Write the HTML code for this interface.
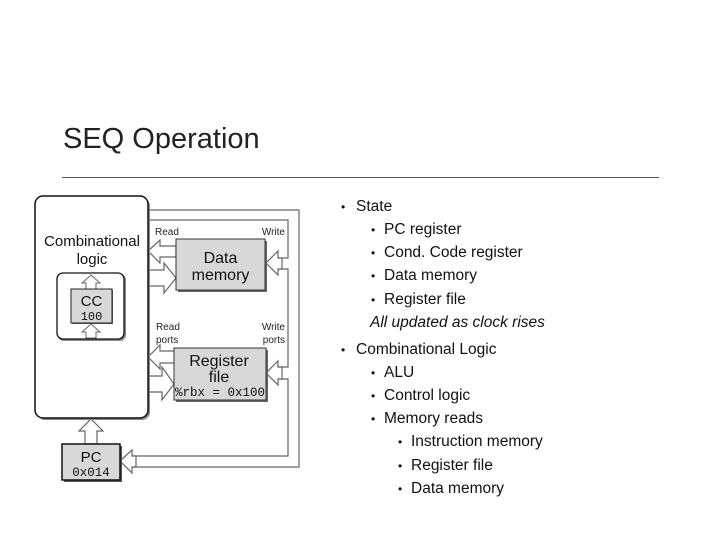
<!DOCTYPE html>
<html><head><meta charset="utf-8"><style>
html,body{margin:0;padding:0;background:#fff;width:719px;height:539px;overflow:hidden}
</style></head><body>
<svg width="719" height="539" viewBox="0 0 719 539" xmlns="http://www.w3.org/2000/svg" font-family="Liberation Sans, Arial, sans-serif">
<text x="63" y="148" font-size="29" fill="#222">SEQ Operation</text>
<line x1="62" y1="177.5" x2="659" y2="177.5" stroke="#555" stroke-width="1"/>

<!-- pipes -->
<g fill="none" stroke="#666" stroke-width="1.2">
<polyline points="148,210 299,210 299,467 132,467"/>
<polyline points="148,220 288,220 288,258 278,258"/>
<polyline points="278,269 288,269 288,367 278,367"/>
<polyline points="278,379 288,379 288,456 132,456"/>
</g>
<g fill="#fff" stroke="#666" stroke-width="1.2" stroke-linejoin="miter">
<polygon points="266,263 278,251 278,258 282,258 282,269 278,269 278,275"/>
<polygon points="266,373 278,361 278,367 282,367 282,379 278,379 278,385"/>
<polygon points="120,461 132,450 132,456 136,456 136,467 132,467 132,473"/>
<polygon points="148,251 160,240 160,246 176,246 176,257 160,257 160,263"/>
<polygon points="176,278 164,263 164,270 148,270 148,286 164,286 164,293"/>
<polygon points="148,357 160,345 160,351 176,351 176,363 160,363 160,369"/>
<polygon points="174,384 162,367 162,376 148,376 148,392 162,392 162,400"/>
<polygon points="91,419 103,431 97,431 97,444 85,444 85,431 79,431"/>
</g>

<!-- combinational logic -->
<rect x="37" y="198" width="113" height="222" rx="8" fill="#888"/>
<rect x="35" y="196" width="113" height="222" rx="8" fill="#fff" stroke="#111" stroke-width="1.5"/>
<text x="92" y="246" font-size="15" text-anchor="middle" fill="#111">Combinational</text>
<text x="92" y="264" font-size="15" text-anchor="middle" fill="#111">logic</text>
<rect x="58" y="274" width="68" height="67" rx="6" fill="#888"/>
<rect x="57" y="273" width="67" height="66" rx="6" fill="#fff" stroke="#111" stroke-width="1.3"/>
<polygon points="91,275 100,283 96,283 96,289 86,289 86,283 82,283" fill="#fff" stroke="#666"/>
<polygon points="91,324 100,332 96,332 96,338 86,338 86,332 82,332" fill="#fff" stroke="#666"/>
<rect x="72" y="290" width="41" height="34" fill="#666"/>
<rect x="71" y="289" width="41" height="34" fill="#d8d8d8" stroke="#222"/>
<text x="91.5" y="306" font-size="15" text-anchor="middle" fill="#111">CC</text>
<text x="91.5" y="320" font-size="12" font-family="Liberation Mono, monospace" text-anchor="middle" fill="#111">100</text>

<!-- data memory -->
<rect x="178" y="241" width="89" height="51" fill="#666"/>
<rect x="176" y="239" width="89" height="51" fill="#d8d8d8" stroke="#333"/>
<text x="220.5" y="263" font-size="16" text-anchor="middle" fill="#111">Data</text>
<text x="220.5" y="280" font-size="16" text-anchor="middle" fill="#111">memory</text>
<text x="155" y="235" font-size="10" fill="#222">Read</text>
<text x="285" y="235" font-size="10" text-anchor="end" fill="#222">Write</text>

<!-- register file -->
<rect x="176" y="350" width="92" height="52" fill="#666"/>
<rect x="174" y="348" width="92" height="52" fill="#d8d8d8" stroke="#333"/>
<text x="219" y="366" font-size="16" text-anchor="middle" fill="#111">Register</text>
<text x="219" y="382" font-size="16" text-anchor="middle" fill="#111">file</text>
<text x="220" y="396" font-size="12.5" font-family="Liberation Mono, monospace" text-anchor="middle" fill="#111">%rbx = 0x100</text>
<text x="156" y="330" font-size="10" fill="#222">Read</text>
<text x="156" y="343" font-size="10" fill="#222">ports</text>
<text x="285" y="330" font-size="10" text-anchor="end" fill="#222">Write</text>
<text x="285" y="343" font-size="10" text-anchor="end" fill="#222">ports</text>

<!-- PC -->
<rect x="64" y="446" width="58" height="36" fill="#555"/>
<rect x="62" y="444" width="58" height="36" fill="#d8d8d8" stroke="#111" stroke-width="1.5"/>
<text x="91" y="462" font-size="15" text-anchor="middle" fill="#111">PC</text>
<text x="91" y="476" font-size="12.5" font-family="Liberation Mono, monospace" text-anchor="middle" fill="#111">0x014</text>

<!-- bullets -->
<g font-size="15.5" fill="#111">
<text x="341" y="211" font-size="12">•</text><text x="356" y="211">State</text>
<text x="371" y="234" font-size="12">•</text><text x="384" y="234">PC register</text>
<text x="371" y="257" font-size="12">•</text><text x="384" y="257">Cond. Code register</text>
<text x="371" y="280" font-size="12">•</text><text x="384" y="280">Data memory</text>
<text x="371" y="304" font-size="12">•</text><text x="384" y="304">Register file</text>
<text x="370" y="327" font-style="italic">All updated as clock rises</text>
<text x="341" y="354" font-size="12">•</text><text x="356" y="354">Combinational Logic</text>
<text x="371" y="377" font-size="12">•</text><text x="384" y="377">ALU</text>
<text x="371" y="400" font-size="12">•</text><text x="384" y="400">Control logic</text>
<text x="371" y="423" font-size="12">•</text><text x="384" y="423">Memory reads</text>
<text x="398" y="446" font-size="12">•</text><text x="411" y="446">Instruction memory</text>
<text x="398" y="470" font-size="12">•</text><text x="411" y="470">Register file</text>
<text x="398" y="493" font-size="12">•</text><text x="411" y="493">Data memory</text>
</g>
</svg>
</body></html>
